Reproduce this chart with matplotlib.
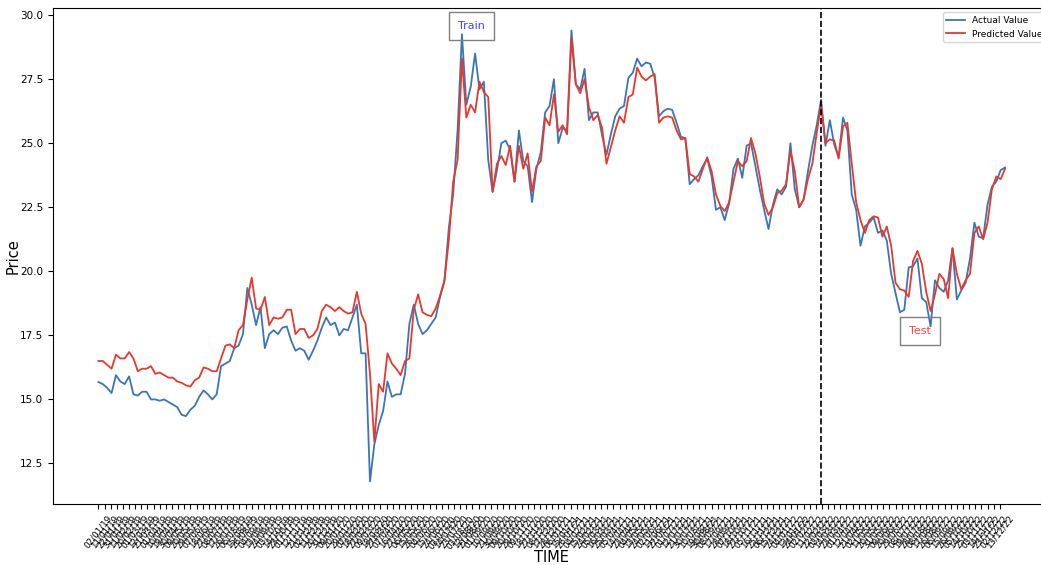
import numpy as np
import pandas as pd
import matplotlib
matplotlib.use("Agg")
import matplotlib.pyplot as plt


# Trading calendar (business days) and weekly sampling of the price series
START_DATE = "2019-01-02"
N_DAYS = 1036
SAMPLE_STEP = 5
TICK_STEP = 7
SPLIT_DAY = 825

# Weekly readings of the actual closing price
actual_price = [
    15.68, 15.6, 15.45, 15.25, 15.95, 15.7, 15.6, 15.9, 15.2, 15.15,
    15.3, 15.3, 15.0, 15.0, 14.95, 15.0, 14.9, 14.8, 14.7, 14.4,
    14.35, 14.6, 14.75, 15.1, 15.35, 15.2, 15.0, 15.2, 16.3, 16.4,
    16.5, 17.0, 17.1, 17.55, 19.35, 18.7, 17.9, 18.6, 17.0, 17.55,
    17.7, 17.55, 17.8, 17.85, 17.3, 16.9, 17.0, 16.9, 16.55, 16.9,
    17.3, 17.8, 18.2, 17.9, 18.0, 17.5, 17.75, 17.7, 18.2, 18.7,
    16.8, 16.8, 11.8, 13.25, 14.0, 14.55, 15.7, 15.1, 15.2, 15.2,
    16.0, 17.95, 18.7, 17.95, 17.55, 17.7, 17.95, 18.2, 19.0, 19.6,
    21.7, 23.0, 25.5, 29.25, 26.5, 27.2, 28.5, 27.1, 27.4, 24.35,
    23.1, 23.95, 25.0, 25.1, 24.75, 23.5, 25.5, 24.3, 24.1, 22.7,
    24.0, 24.65, 26.2, 26.45, 27.5, 25.0, 25.6, 25.5, 29.4, 27.3,
    27.1, 27.9, 25.9, 26.2, 26.2, 25.3, 24.55, 25.35, 26.05, 26.35,
    26.45, 27.55, 27.75, 28.3, 28.0, 28.15, 28.1, 27.55, 26.05, 26.25,
    26.35, 26.3, 25.8, 25.25, 25.2, 23.4, 23.6, 23.75, 24.1, 24.4,
    23.7, 22.4, 22.5, 22.0, 22.65, 24.0, 24.4, 23.65, 24.9, 25.0,
    24.1, 23.2, 22.4, 21.65, 22.6, 23.2, 23.0, 23.3, 25.0, 23.2,
    22.5, 22.8, 23.9, 24.9, 25.7, 26.7, 24.9, 25.9, 24.95, 24.45,
    26.0, 25.5, 23.0, 22.4, 21.0, 21.75, 21.9, 22.1, 21.5, 21.6,
    21.2, 19.9, 19.15, 18.4, 18.5, 20.15, 20.2, 20.5, 18.95, 18.8,
    17.85, 19.65, 19.35, 19.2, 19.65, 20.9, 18.9, 19.25, 19.55, 20.5,
    21.9, 21.35, 21.3, 22.6, 23.3, 23.5, 23.95, 24.05,
]

# Weekly readings of the model prediction
predicted_price = [
    16.5, 16.5, 16.35, 16.2, 16.75, 16.6, 16.6, 16.85, 16.6, 16.1,
    16.2, 16.2, 16.3, 16.0, 16.05, 15.95, 15.85, 15.85, 15.7, 15.65,
    15.55, 15.5, 15.75, 15.85, 16.25, 16.2, 16.1, 16.1, 16.6, 17.1,
    17.15, 17.0, 17.7, 17.9, 18.9, 19.75, 18.55, 18.5, 19.0, 17.9,
    18.2, 18.15, 18.2, 18.5, 18.5, 17.55, 17.75, 17.75, 17.4, 17.5,
    17.75, 18.45, 18.7, 18.6, 18.45, 18.6, 18.45, 18.35, 18.4, 19.2,
    18.35, 17.95, 16.0, 13.35, 15.6, 15.3, 16.8, 16.4, 16.2, 15.95,
    16.5, 16.6, 18.5, 19.1, 18.4, 18.3, 18.25, 18.55, 19.05, 19.65,
    21.2, 23.5, 24.35, 28.3, 26.0, 26.5, 26.2, 27.4, 27.0, 26.8,
    23.1, 24.2, 24.5, 24.15, 24.9, 23.5, 24.9, 24.0, 24.6, 23.1,
    24.1, 24.3, 26.0, 25.7, 26.9, 25.45, 25.7, 25.35, 29.1, 27.3,
    26.95, 27.5, 26.4, 25.9, 26.1, 25.6, 24.2, 24.85, 25.5, 26.05,
    25.8, 26.8, 26.9, 27.95, 27.6, 27.45, 27.6, 27.7, 25.8, 26.0,
    26.05, 26.0, 25.5, 25.15, 25.2, 23.8, 23.7, 23.5, 24.0, 24.45,
    23.9, 23.0, 22.55, 22.35, 22.7, 23.5, 24.3, 24.1, 24.3, 25.2,
    24.6, 23.7, 22.65, 22.2, 22.5, 23.05, 23.15, 23.4, 24.7, 23.9,
    22.5, 22.8, 23.6, 24.2, 25.4, 26.5, 25.0, 25.15, 25.1, 24.4,
    25.65, 25.8, 24.2, 22.7, 22.0, 21.5, 22.0, 22.15, 22.1, 21.35,
    21.75, 21.0, 19.55, 19.3, 19.25, 19.0, 20.4, 20.8, 20.3, 19.2,
    18.45, 19.1, 19.9, 19.7, 18.95, 20.9, 19.9, 19.3, 19.65, 19.9,
    21.5, 21.75, 21.25, 21.9, 23.2, 23.7, 23.6, 24.0,
]

# Build the date axis
dates = pd.bdate_range(START_DATE, periods=N_DAYS)
day_idx = np.arange(N_DAYS)
sample_idx = day_idx[::SAMPLE_STEP]
tick_idx = day_idx[::TICK_STEP]
tick_labels = dates[tick_idx].strftime("%d/%m/%y")

# Figure with axes running past the right edge (as in the cropped original)
fig = plt.figure(figsize=(10.41, 5.65), dpi=100)
ax = fig.add_axes([0.051, 0.108, 0.958, 0.878])

ax.plot(sample_idx, actual_price, color="#3a76b4", linewidth=1.3, label="Actual Value")
ax.plot(sample_idx, predicted_price, color="#e8382d", linewidth=1.3, label="Predicted Value")

# Train / test split marker
ax.axvline(SPLIT_DAY, color="black", linestyle="--", linewidth=1.2)

ax.text(426, 29.57, "Train", color="blue", alpha=0.75, fontsize=8,
        ha="center", va="center",
        bbox=dict(boxstyle="square,pad=0.8", facecolor="none", edgecolor="gray"))
ax.text(938, 17.68, "Test", color="red", alpha=0.75, fontsize=8,
        ha="center", va="center",
        bbox=dict(boxstyle="square,pad=0.8", facecolor="none", edgecolor="gray"))

ax.set_xticks(tick_idx)
ax.set_xticklabels(tick_labels, rotation=52, fontsize=6.3)
ax.tick_params(axis="y", labelsize=7.5)
ax.set_xlabel("TIME", fontsize=10.5)
ax.set_ylabel("Price", fontsize=10.5)
ax.xaxis.set_label_coords(0.4995, -0.092)
ax.yaxis.set_label_coords(-0.033, 0.5)
ax.legend(loc="upper right", fontsize=6.5)

fig.savefig("out.png", dpi=100)
